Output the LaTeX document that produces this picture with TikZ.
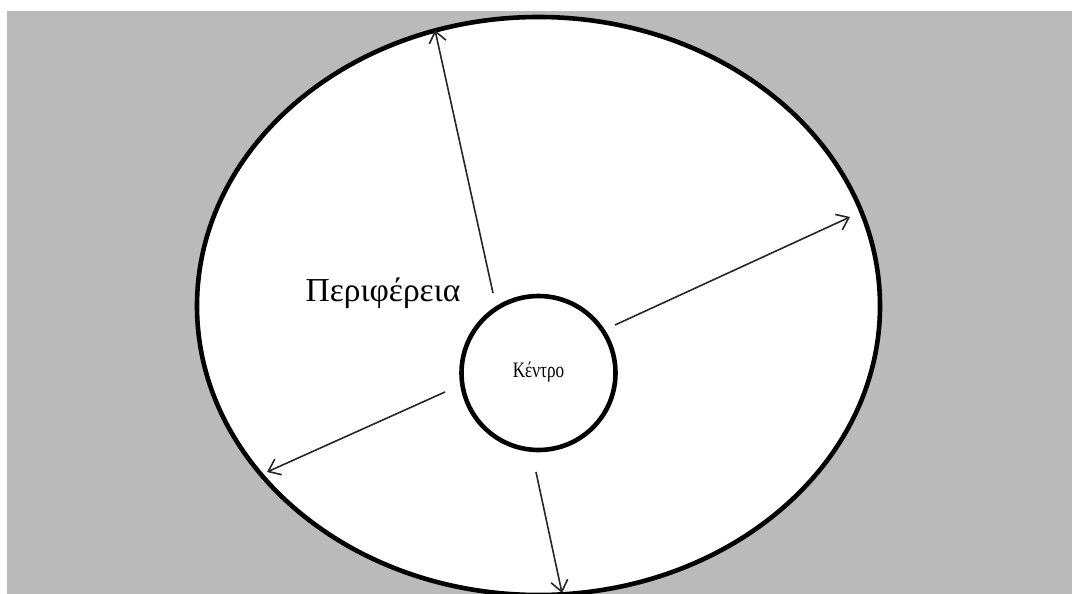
\documentclass[tikz,border=0pt]{standalone}
\usepackage{fontspec}
\setmainfont{Liberation Serif}
\usetikzlibrary{arrows.meta,shapes.geometric}
\definecolor{bggray}{HTML}{BABABA}
\tikzset{
  ring/.style={draw=black, line width=4.6pt, fill=white},
  ray/.style={draw=black!85, line width=1.6pt, -{Straight Barb[length=11pt,width=17pt,line width=1.6pt]}},
}
\begin{document}
\begin{tikzpicture}[x=1pt,y=-1pt]
\useasboundingbox (0,0) rectangle (1072,594);
\fill[white] (0,0) rectangle (1072,594);
\fill[bggray] (7,11) rectangle (1072,594);
\begin{scope}
\clip (0,0) rectangle (1072,594);
\node[ring, ellipse, minimum width=683pt, minimum height=578pt, inner sep=0pt] (outer) at (538.5,306) {};
\node[ring, circle, minimum size=154pt, inner sep=0pt] (c) at (538.5,373) {};
\node[font=\fontsize{22}{24}\selectfont, xscale=0.78] (lc) at (538.5,372) {Κέντρο};
\node[font=\fontsize{33.5}{36}\selectfont] (lp) at (383,293) {Περιφέρεια};
\coordinate (s1) at (493,293);
\coordinate (t1) at (435,30);
\coordinate (s2) at (615,325);
\coordinate (t2) at (850,217);
\coordinate (s3) at (445,392);
\coordinate (t3) at (267,472);
\coordinate (s4) at (536,472);
\coordinate (t4) at (562,593);
\draw[ray] (s1) -- (t1);
\draw[ray] (s2) -- (t2);
\draw[ray] (s3) -- (t3);
\draw[ray] (s4) -- (t4);
\end{scope}
\end{tikzpicture}
\end{document}
